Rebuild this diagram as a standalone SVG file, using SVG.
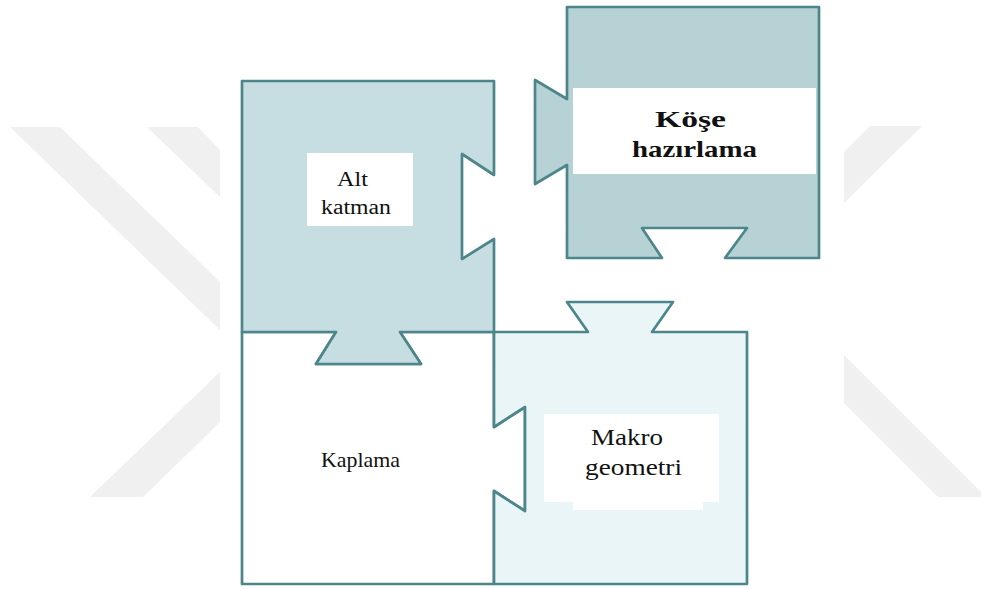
<svg xmlns="http://www.w3.org/2000/svg" width="981" height="589" viewBox="0 0 981 589">
<style>
.wm{fill:#f0f0f0}
.piece{stroke:#4c868b;stroke-width:2.7;stroke-linejoin:round}
.lbl{fill:#ffffff}
.t{font-family:"Liberation Serif","Times New Roman",serif;fill:#111111}
.b{font-weight:bold}
</style>
<rect x="0" y="0" width="981" height="589" fill="#ffffff"/>
<g id="watermark">
<polygon class="wm" points="10,127 60,127 220,282 220,330"/>
<polygon class="wm" points="147,127 198,127 220,150 220,197"/>
<polygon class="wm" points="90,497 143,497 220,422 220,372"/>
<polygon class="wm" points="870,126 922,126 844,203 844,152"/>
<polygon class="wm" points="844,355 981,492 981,497 938,497 844,403"/>
</g>
<g id="kaplama">
<path class="piece" fill="#ffffff" d="M242,332 L336,332 L316,364 L421,364 L400,332 L494,332 L494,427 L525,407 L525,511 L494,491 L494,584 L242,584 Z"/>
<text class="t" x="321" y="467" font-size="22" textLength="79" lengthAdjust="spacingAndGlyphs">Kaplama</text>
</g>
<g id="alt-katman">
<path class="piece" fill="#c6dee1" d="M242,81 L494,81 L494,175 L462,154 L462,259 L494,239 L494,332 L400,332 L421,364 L316,364 L336,332 L242,332 Z"/>
<rect class="lbl" x="307" y="153" width="106" height="73"/>
<text class="t" x="337" y="186" font-size="20" textLength="31" lengthAdjust="spacingAndGlyphs">Alt</text>
<text class="t" x="321" y="214" font-size="20" textLength="70" lengthAdjust="spacingAndGlyphs">katman</text>
</g>
<g id="makro-geometri">
<path class="piece" fill="#eaf5f8" d="M494,332 L588,332 L567,302 L673,302 L652,332 L747,332 L747,584 L494,584 L494,491 L525,511 L525,407 L494,427 Z"/>
<path class="lbl" d="M544,414 L719,414 L719,502 L703,502 L703,510 L573,510 L573,502 L544,502 Z"/>
<text class="t" x="591" y="445" font-size="23" textLength="72" lengthAdjust="spacingAndGlyphs">Makro</text>
<text class="t" x="585" y="475" font-size="23" textLength="97" lengthAdjust="spacingAndGlyphs">geometri</text>
</g>
<g id="kose-hazirlama">
<path class="piece" fill="#b7d2d5" d="M567,7 L819,7 L819,258 L725,258 L747,228 L642,228 L662,258 L567,258 L567,165 L535,184 L535,80 L567,99 Z"/>
<rect class="lbl" x="573" y="88" width="243" height="86"/>
<text class="t b" x="655" y="127" font-size="24" textLength="71" lengthAdjust="spacingAndGlyphs">Köşe</text>
<text class="t b" x="632" y="157" font-size="24" textLength="125" lengthAdjust="spacingAndGlyphs">hazırlama</text>
</g>
<g id="connectors"></g>
</svg>
